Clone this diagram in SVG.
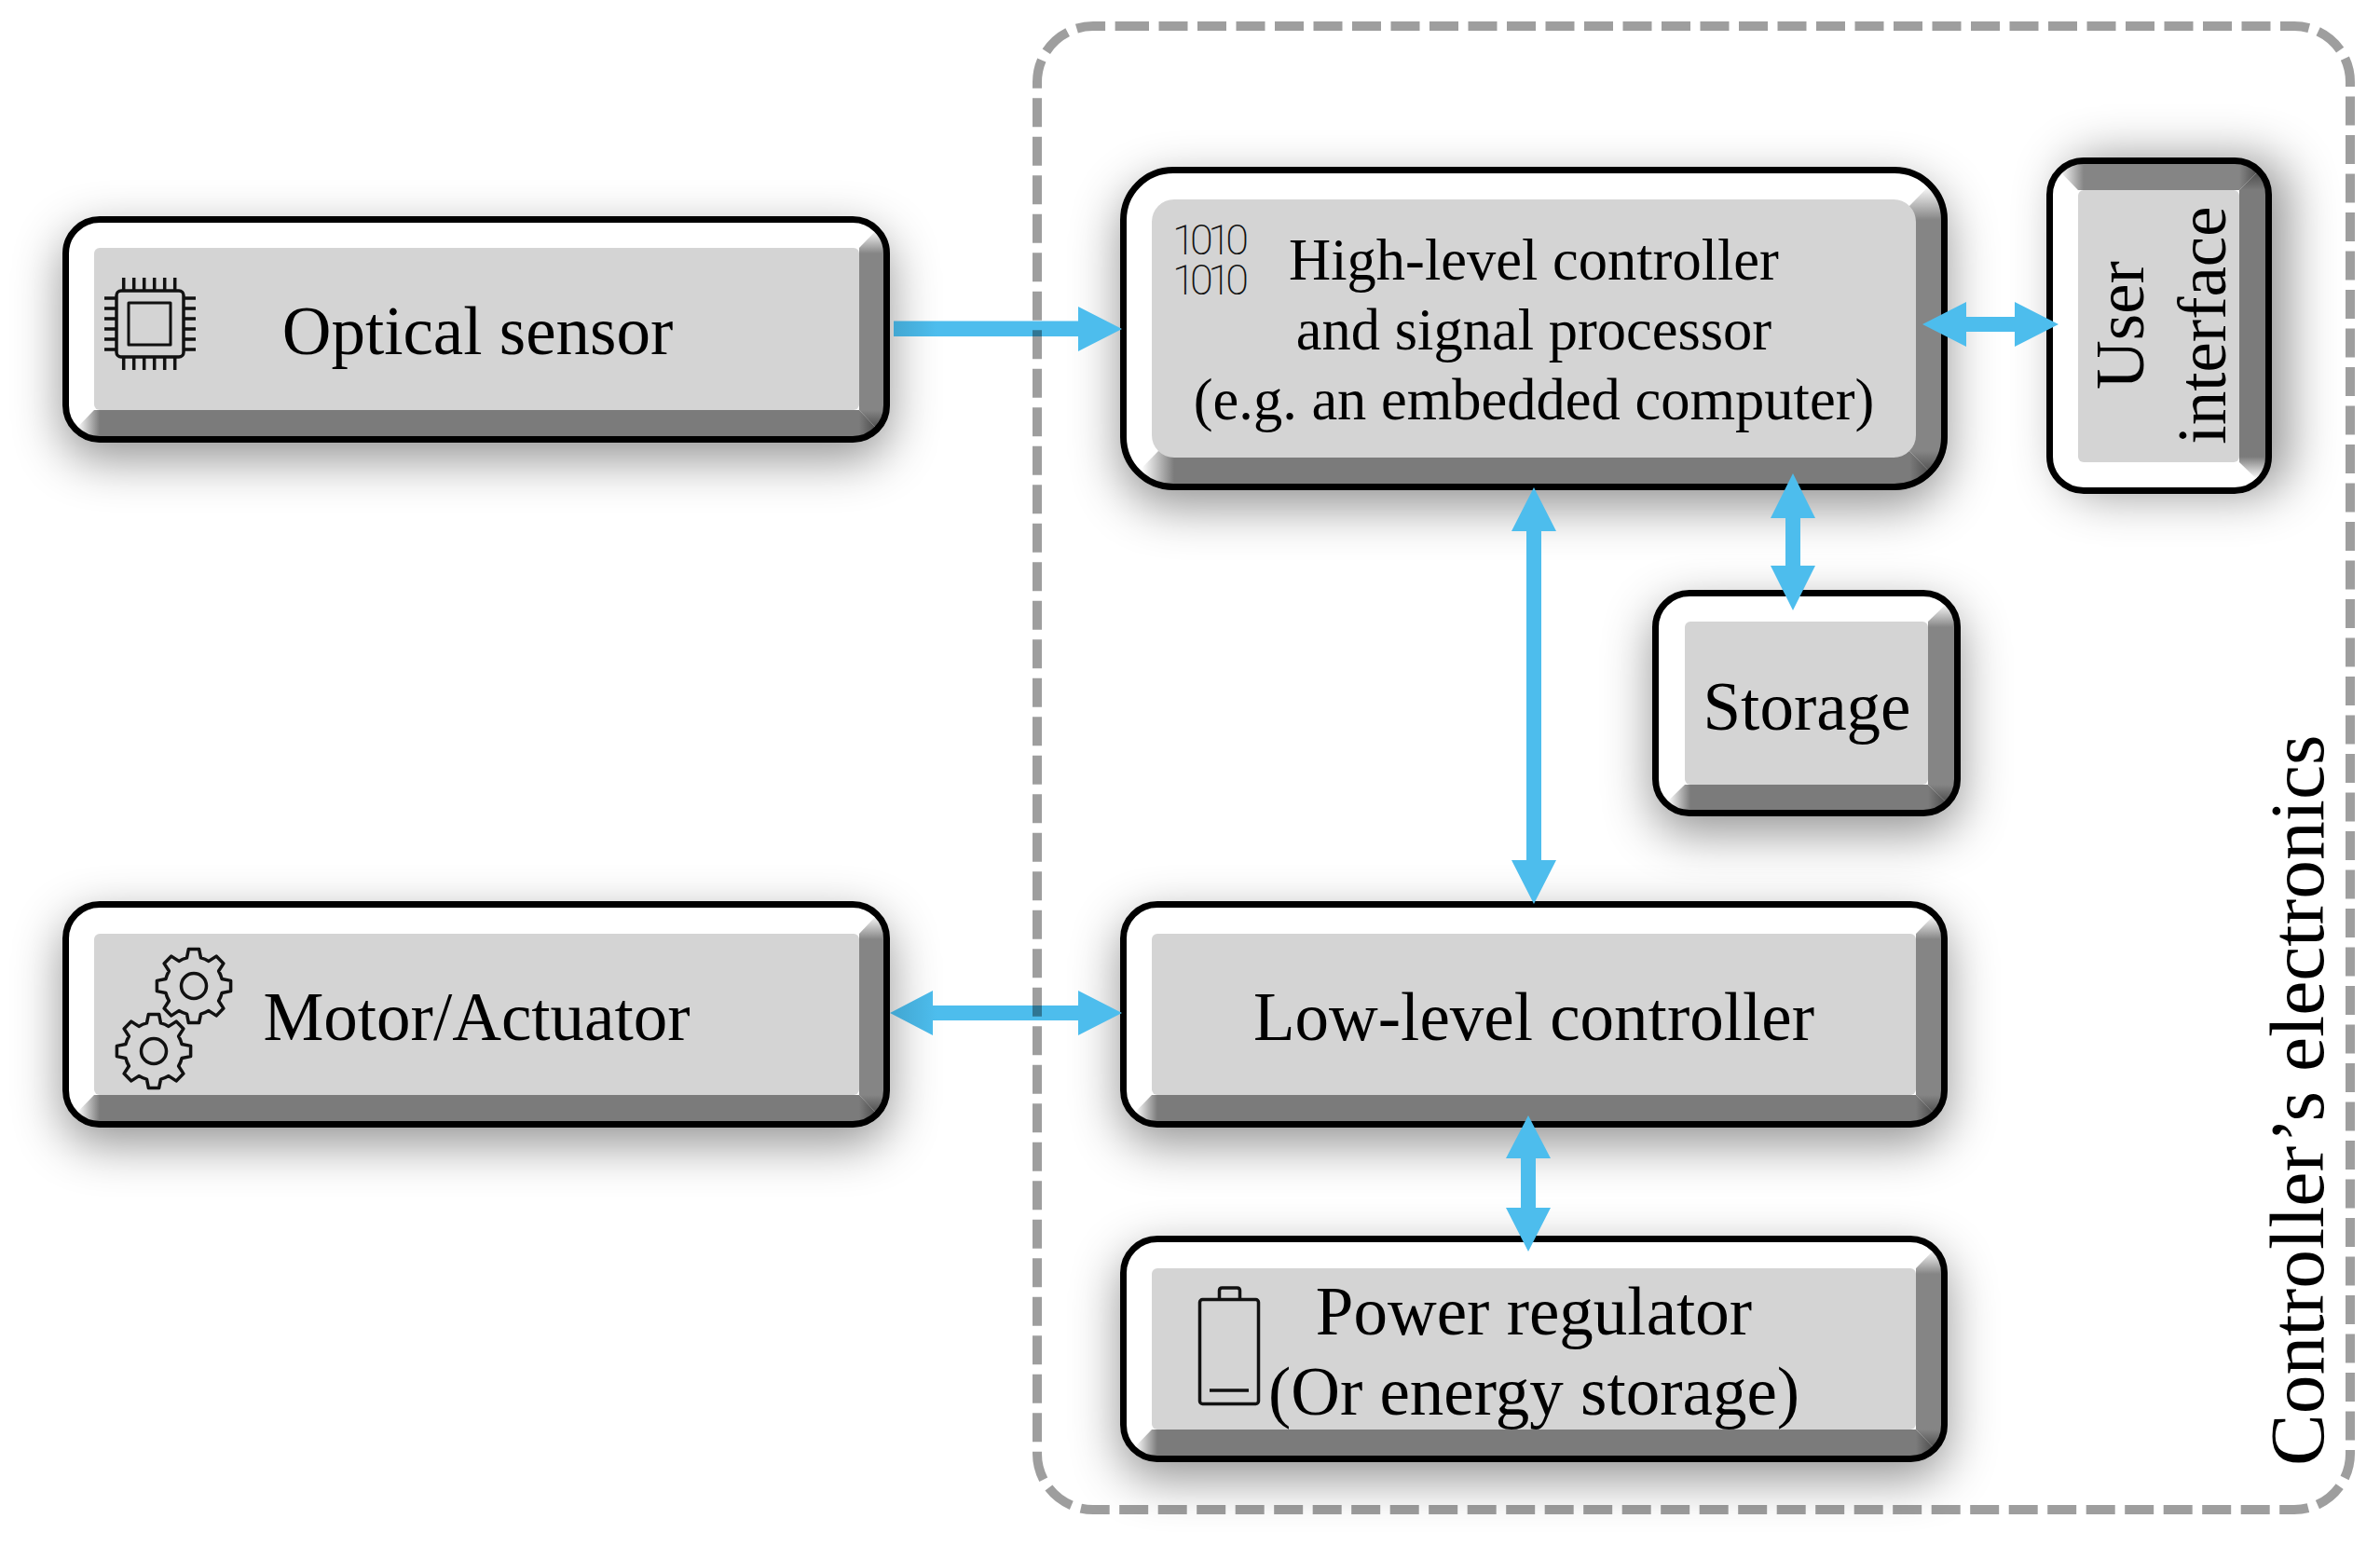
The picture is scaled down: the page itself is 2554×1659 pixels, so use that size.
<svg xmlns="http://www.w3.org/2000/svg" width="2554" height="1659" viewBox="0 0 2554 1659">
<style>
.base{fill:#fff;filter:url(#sh)}
.edge{fill:none;stroke:#000;stroke-width:7}
.face{fill:#d4d4d4}
.bb{fill:#7b7b7b}
.br{fill:#858585}
.bl{fill:url(#gBL)}
.tr{fill:url(#gTR)}
.bra{fill:url(#gBRa)}
.brb{fill:url(#gBRb)}
text{font-family:"Liberation Serif","Times New Roman",serif;fill:#000;text-anchor:middle}
.t73{font-size:73px}
.t62{font-size:62.5px}
.bin{font-family:Roboto,"Liberation Sans",sans-serif;font-weight:200;font-size:45px;fill:#111}
.ico{fill:none;stroke:#111;stroke-width:3.5;stroke-linejoin:round}
.ar{fill:#4dbded}
</style>
<defs>
<filter id="sh" x="-30%" y="-80%" width="160%" height="260%" color-interpolation-filters="sRGB">
<feDropShadow dx="0" dy="18" stdDeviation="26" flood-color="#000" flood-opacity="0.42"/>
</filter>
<linearGradient id="gBL" x1="0" y1="0" x2="1" y2="0"><stop offset="0.4" stop-color="#fff"/><stop offset="1" stop-color="#7b7b7b"/></linearGradient>
<linearGradient id="gTR" x1="0" y1="0" x2="0" y2="1"><stop offset="0.35" stop-color="#fff"/><stop offset="1" stop-color="#858585"/></linearGradient>
<linearGradient id="gBRa" x1="0" y1="0" x2="0" y2="1"><stop offset="0" stop-color="#858585"/><stop offset="0.7" stop-color="#404040"/></linearGradient>
<linearGradient id="gBRb" x1="0" y1="0" x2="1" y2="0"><stop offset="0" stop-color="#7b7b7b"/><stop offset="0.7" stop-color="#404040"/></linearGradient>
<linearGradient id="gShR" gradientUnits="userSpaceOnUse" x1="955" y1="0" x2="1005" y2="0"><stop offset="0" stop-color="#41a5d0"/><stop offset="1" stop-color="#4dbded"/></linearGradient>
<clipPath id="cOpt"><rect x="67" y="232" width="888" height="243" rx="40"/></clipPath>
<clipPath id="cMot"><rect x="67" y="967" width="888" height="243" rx="40"/></clipPath>
<clipPath id="cHi"><rect x="1202" y="179" width="888" height="347" rx="57"/></clipPath>
<clipPath id="cLow"><rect x="1202" y="967" width="888" height="243" rx="40"/></clipPath>
<clipPath id="cPow"><rect x="1202" y="1326" width="888" height="243" rx="40"/></clipPath>
<clipPath id="cSto"><rect x="1773" y="633" width="331" height="243" rx="40"/></clipPath>
<clipPath id="cUi"><rect x="-181" y="-121" width="361" height="242" rx="40"/></clipPath>
<path id="gear" d="M30.1 -7.5L39.6 -5.6L39.6 5.6L30.1 7.5A31 31 0 0 1 26.6 16L31.9 24.1L24.1 31.9L16 26.6A31 31 0 0 1 7.5 30.1L5.6 39.6L-5.6 39.6L-7.5 30.1A31 31 0 0 1 -16 26.6L-24.1 31.9L-31.9 24.1L-26.6 16A31 31 0 0 1 -30.1 7.5L-39.6 5.6L-39.6 -5.6L-30.1 -7.5A31 31 0 0 1 -26.6 -16L-31.9 -24.1L-24.1 -31.9L-16 -26.6A31 31 0 0 1 -7.5 -30.1L-5.6 -39.6L5.6 -39.6L7.5 -30.1A31 31 0 0 1 16 -26.6L24.1 -31.9L31.9 -24.1L26.6 -16A31 31 0 0 1 30.1 -7.5Z"/>
</defs>
<rect width="2554" height="1659" fill="#fff"/>

<g id="optical-sensor">
<rect class="base" x="67" y="232" width="888" height="243" rx="40"/>
<g clip-path="url(#cOpt)">
<polygon class="bb" points="107,440 922,440 922,475 107,475"/>
<polygon class="br" points="922,272 955,272 955,440 922,440"/>
<polygon class="bl" points="101,440 107,440 107,475 67,475"/>
<polygon class="tr" points="922,266 955,232 955,272 922,272"/>
<polygon class="bra" points="922,440 955,440 955,475"/>
<polygon class="brb" points="922,440 955,475 922,475"/>
</g>
<rect class="edge" x="70.5" y="235.5" width="881" height="236" rx="36.5"/>
<rect class="face" x="101" y="266" width="821" height="174" rx="6"/>
<g class="ico">
<rect x="125" y="312" width="72" height="71" rx="5"/>
<rect x="138" y="325" width="45" height="45" stroke-width="3"/>
<path d="M132.7 298V312M143.7 298V312M154.7 298V312M165.7 298V312M176.7 298V312M187.7 298V312M132.7 383V397M143.7 383V397M154.7 383V397M165.7 383V397M176.7 383V397M187.7 383V397M112 320H125M112 331H125M112 342H125M112 353H125M112 364H125M112 375H125M197 320H210M197 331H210M197 342H210M197 353H210M197 364H210M197 375H210"/>
</g>
<text class="t73" x="512.5" y="380">Optical sensor</text>
</g>

<g id="high-level-controller">
<rect class="base" x="1202" y="179" width="888" height="347" rx="57"/>
<g clip-path="url(#cHi)">
<polygon class="bb" points="1260,484 2049,484 2049,526 1260,526"/>
<polygon class="br" points="2049,236 2090,236 2090,484 2049,484"/>
<polygon class="bl" points="1243,484 1260,484 1260,526 1202,526"/>
<polygon class="tr" points="2049,221 2090,179 2090,236 2049,236"/>
<polygon class="bra" points="2049,484 2090,484 2090,526"/>
<polygon class="brb" points="2049,484 2090,526 2049,526"/>
</g>
<rect class="edge" x="1205.5" y="182.5" width="881" height="340" rx="53.5"/>
<rect class="face" x="1236" y="214" width="820" height="277" rx="24"/>
<text class="bin"><tspan x="1299" y="273" textLength="82" lengthAdjust="spacing">1010</tspan><tspan x="1299" y="316" textLength="82" lengthAdjust="spacing">1010</tspan></text>
<text class="t62" x="1646" y="300">High-level controller</text>
<text class="t62" x="1646" y="375">and signal processor</text>
<text class="t62" x="1646" y="450">(e.g. an embedded computer)</text>
</g>

<g id="user-interface" transform="translate(2317 349) rotate(-90)">
<rect class="base" x="-181" y="-121" width="361" height="242" rx="40"/>
<g clip-path="url(#cUi)">
<polygon class="bb" points="-141,86 145,86 145,121 -141,121"/>
<polygon class="br" points="145,-81 180,-81 180,86 145,86"/>
<polygon class="bl" points="-147,86 -141,86 -141,121 -181,121"/>
<polygon class="tr" points="145,-87 180,-121 180,-81 145,-81"/>
<polygon class="bra" points="145,86 180,86 180,121"/>
<polygon class="brb" points="145,86 180,121 145,121"/>
</g>
<rect class="edge" x="-177.5" y="-117.5" width="354" height="235" rx="36.5"/>
<rect class="face" x="-147" y="-87" width="292" height="173" rx="6"/>
<text class="t73" x="0" y="-17">User</text>
<text class="t73" x="0" y="71">interface</text>
</g>

<g id="storage">
<rect class="base" x="1773" y="633" width="331" height="243" rx="40"/>
<g clip-path="url(#cSto)">
<polygon class="bb" points="1814,842 2069,842 2069,876 1814,876"/>
<polygon class="br" points="2069,673 2104,673 2104,842 2069,842"/>
<polygon class="bl" points="1808,842 1814,842 1814,876 1773,876"/>
<polygon class="tr" points="2069,667 2104,633 2104,673 2069,673"/>
<polygon class="bra" points="2069,842 2104,842 2104,876"/>
<polygon class="brb" points="2069,842 2104,876 2069,876"/>
</g>
<rect class="edge" x="1776.5" y="636.5" width="324" height="236" rx="36.5"/>
<rect class="face" x="1808" y="667" width="261" height="175" rx="6"/>
<text class="t73" x="1939" y="783">Storage</text>
</g>

<g id="motor-actuator">
<rect class="base" x="67" y="967" width="888" height="243" rx="40"/>
<g clip-path="url(#cMot)">
<polygon class="bb" points="107,1175 922,1175 922,1210 107,1210"/>
<polygon class="br" points="922,1008 955,1008 955,1175 922,1175"/>
<polygon class="bl" points="101,1175 107,1175 107,1210 67,1210"/>
<polygon class="tr" points="922,1002 955,967 955,1008 922,1008"/>
<polygon class="bra" points="922,1175 955,1175 955,1210"/>
<polygon class="brb" points="922,1175 955,1210 922,1210"/>
</g>
<rect class="edge" x="70.5" y="970.5" width="881" height="236" rx="36.5"/>
<rect class="face" x="101" y="1002" width="821" height="173" rx="6"/>
<g class="ico">
<use href="#gear" x="208" y="1058"/>
<circle cx="208" cy="1058" r="13.5"/>
<use href="#gear" x="165" y="1128"/>
<circle cx="165" cy="1128" r="13.5"/>
</g>
<text class="t73" x="511.5" y="1116">Motor/Actuator</text>
</g>

<g id="low-level-controller">
<rect class="base" x="1202" y="967" width="888" height="243" rx="40"/>
<g clip-path="url(#cLow)">
<polygon class="bb" points="1242,1175 2056,1175 2056,1210 1242,1210"/>
<polygon class="br" points="2056,1008 2090,1008 2090,1175 2056,1175"/>
<polygon class="bl" points="1236,1175 1242,1175 1242,1210 1202,1210"/>
<polygon class="tr" points="2056,1002 2090,967 2090,1008 2056,1008"/>
<polygon class="bra" points="2056,1175 2090,1175 2090,1210"/>
<polygon class="brb" points="2056,1175 2090,1210 2056,1210"/>
</g>
<rect class="edge" x="1205.5" y="970.5" width="881" height="236" rx="36.5"/>
<rect class="face" x="1236" y="1002" width="820" height="173" rx="6"/>
<text class="t73" x="1646" y="1116">Low-level controller</text>
</g>

<g id="power-regulator">
<rect class="base" x="1202" y="1326" width="888" height="243" rx="40"/>
<g clip-path="url(#cPow)">
<polygon class="bb" points="1242,1534 2056,1534 2056,1569 1242,1569"/>
<polygon class="br" points="2056,1367 2090,1367 2090,1534 2056,1534"/>
<polygon class="bl" points="1236,1534 1242,1534 1242,1569 1202,1569"/>
<polygon class="tr" points="2056,1361 2090,1326 2090,1367 2056,1367"/>
<polygon class="bra" points="2056,1534 2090,1534 2090,1569"/>
<polygon class="brb" points="2056,1534 2090,1569 2056,1569"/>
</g>
<rect class="edge" x="1205.5" y="1329.5" width="881" height="236" rx="36.5"/>
<rect class="face" x="1236" y="1361" width="820" height="173" rx="6"/>
<g class="ico" stroke-width="3">
<rect x="1287.5" y="1394.5" width="63" height="112" rx="3"/>
<path d="M1308.5 1394.5V1385Q1308.5 1382 1311.5 1382H1327.5Q1330.5 1382 1330.5 1385V1394.5M1298 1492H1340"/>
</g>
<text class="t73" x="1646" y="1432">Power regulator</text>
<text class="t73" x="1646" y="1518">(Or energy storage)</text>
</g>

<g id="connectors">
<polygon class="ar" style="fill:url(#gShR)" points="959,344.5 1157,344.5 1157,329 1204,353 1157,377 1157,361 959,361"/>
<polygon class="ar" style="fill:url(#gShR)" points="955,1087 1001,1063 1001,1079 1157,1079 1157,1063 1204,1087 1157,1111 1157,1095 1001,1095 1001,1111"/>
<polygon class="ar" points="2063,348 2110,324 2110,340 2162,340 2162,324 2209,348 2162,372 2162,356 2110,356 2110,372"/>
<polygon class="ar" points="1646,523 1670,570 1654,570 1654,923 1670,923 1646,970 1622,923 1638,923 1638,570 1622,570"/>
<polygon class="ar" points="1924,508 1948,556 1932,556 1932,607 1948,607 1924,655 1900,607 1916,607 1916,556 1900,556"/>
<polygon class="ar" points="1640,1197 1664,1243 1648,1243 1648,1296 1664,1296 1640,1343 1616,1296 1632,1296 1632,1243 1616,1243"/>
</g>

<g id="controller-electronics">
<path d="M1202 28H2462A60 60 0 0 1 2522 88V1560A60 60 0 0 1 2462 1620H1173A60 60 0 0 1 1113 1560V88A60 60 0 0 1 1173 28Z" fill="none" stroke="#000" stroke-opacity="0.38" stroke-width="10" stroke-dasharray="31 10.5"/>
<text transform="translate(2493 1573) rotate(-90)" x="0" y="0" style="text-anchor:start;font-size:83.5px">Controller’s electronics</text>
</g>
</svg>
